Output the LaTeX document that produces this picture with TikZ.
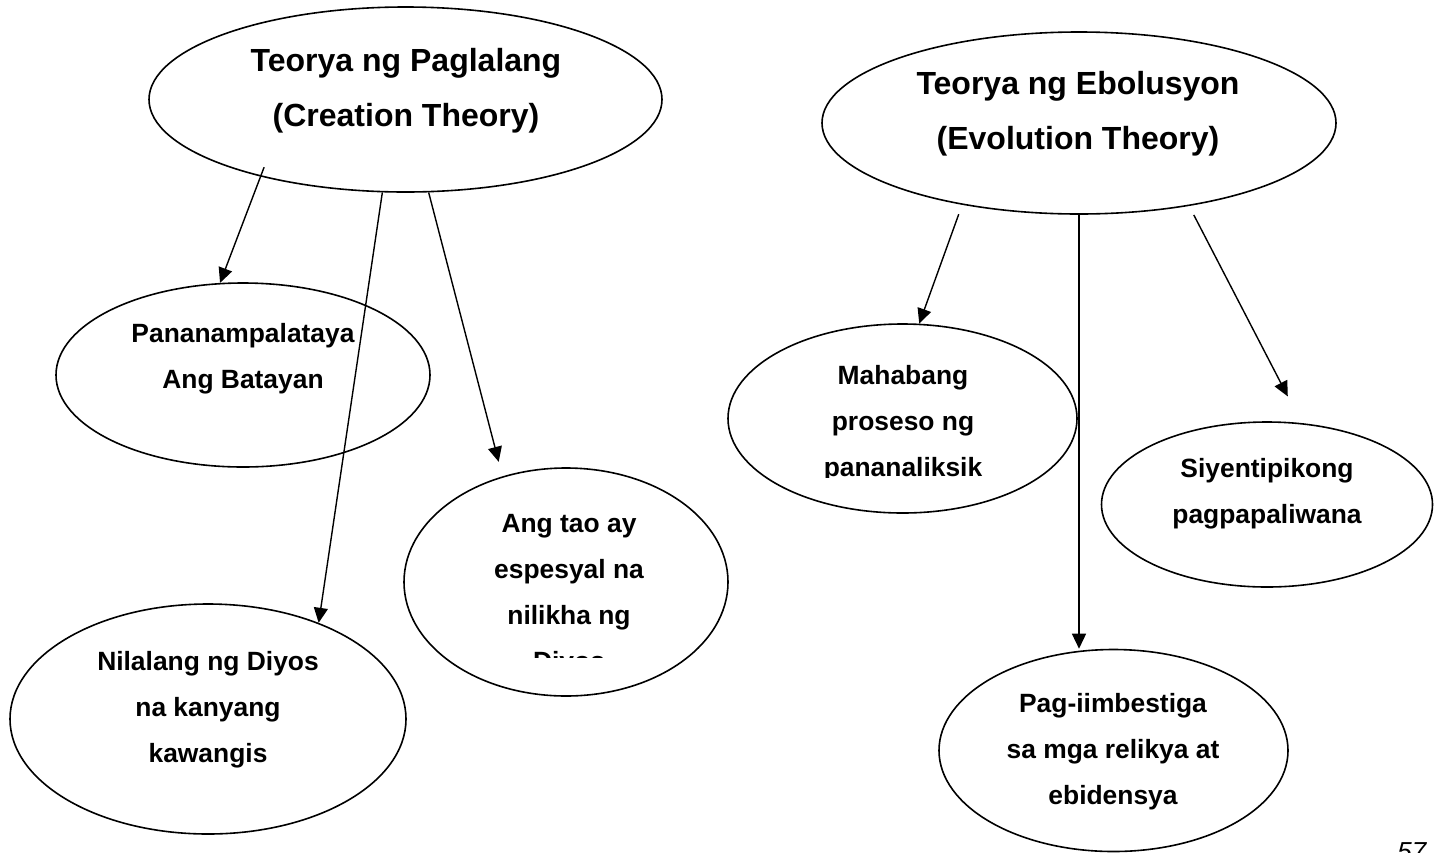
\documentclass[tikz,border=0pt]{standalone}
\usepackage{fontspec}
\setmainfont{Liberation Sans}
\usepackage{tikz}
\usetikzlibrary{arrows.meta,shapes.geometric}

\begin{document}
\begin{tikzpicture}[x=0.5pt,y=-0.5pt,
      every node/.style={inner sep=0pt},
      oval/.style={ellipse,draw,line width=0.8pt},
      bigtext/.style={align=center,font=\bfseries\fontsize{16}{27.5}\selectfont},
      smalltext/.style={align=center,font=\bfseries\fontsize{13.2}{23}\selectfont},
      arr/.style={-{Triangle[length=7.5pt,width=7pt]},line width=0.7pt}]

      \path[use as bounding box,clip] (0,0) rectangle (1434,852);

      % the two theories
      \node[oval,minimum width=256.5pt,minimum height=92.5pt] (creation) at (405.5,99.5) {};
      \node[bigtext] (creation-text) at (406,91) {Teorya ng Paglalang\\(Creation Theory)};
      \node[oval,minimum width=257pt,minimum height=91pt] (evolution) at (1079,123) {};
      \node[bigtext] (evolution-text) at (1078,114) {Teorya ng Ebolusyon\\(Evolution Theory)};

      % creation side
      \node[oval,minimum width=187pt,minimum height=92pt] (faith) at (243,375) {};
      \node[smalltext] (faith-text) at (243,358.6) {Pananampalataya\\Ang Batayan};
      \node[oval,minimum width=162pt,minimum height=114pt] (special) at (566,582) {};
      \begin{scope}
        \clip (400,460) rectangle (735,657);
        \node[smalltext] (special-text) at (569,595.6) {Ang tao ay\\espesyal na\\nilikha ng\\Diyos};
      \end{scope}
      \node[oval,minimum width=198pt,minimum height=115pt] (image) at (208,719) {};
      \node[smalltext] (image-text) at (208,710) {Nilalang ng Diyos\\na kanyang\\kawangis};

      % evolution side
      \node[oval,minimum width=174.5pt,minimum height=94.5pt] (process) at (902.5,418.5) {};
      \begin{scope}
        \clip (720,320) rectangle (1080,477);
        \node[smalltext] (process-text) at (903,423.6) {Mahabang\\proseso ng\\pananaliksik};
      \end{scope}
      \node[oval,minimum width=165.5pt,minimum height=82.5pt] (science) at (1267,504.5) {};
      \node[smalltext] (science-text) at (1267,493.6) {Siyentipikong\\pagpapaliwana};
      \node[oval,minimum width=174.5pt,minimum height=101pt] (evidence) at (1113.5,750.5) {};
      \node[smalltext] (evidence-text) at (1113,751.6) {Pag-iimbestiga\\sa mga relikya at\\ebidensya};

      \draw[arr,shorten <=-5pt] (creation.208.7) -- (faith.104);
      \draw[arr] (creation.256.3) -- (image.41.5);
      \draw[arr,shorten >=7.5pt] (creation.284.9) -- (special.121.6);
      \draw[arr,shorten <=5pt] (evolution.215.7) -- (process.80.9);
      \draw[arr] (evolution.south) -- (evolution.south |- evidence.north);
      \draw[arr,shorten <=5pt,shorten >=15pt] (evolution.323.9) -- (science.67.8);

      \node[font=\itshape\fontsize{13}{15}\selectfont,anchor=base west] (page-num) at (1397,860) {57};
\end{tikzpicture}
\end{document}
